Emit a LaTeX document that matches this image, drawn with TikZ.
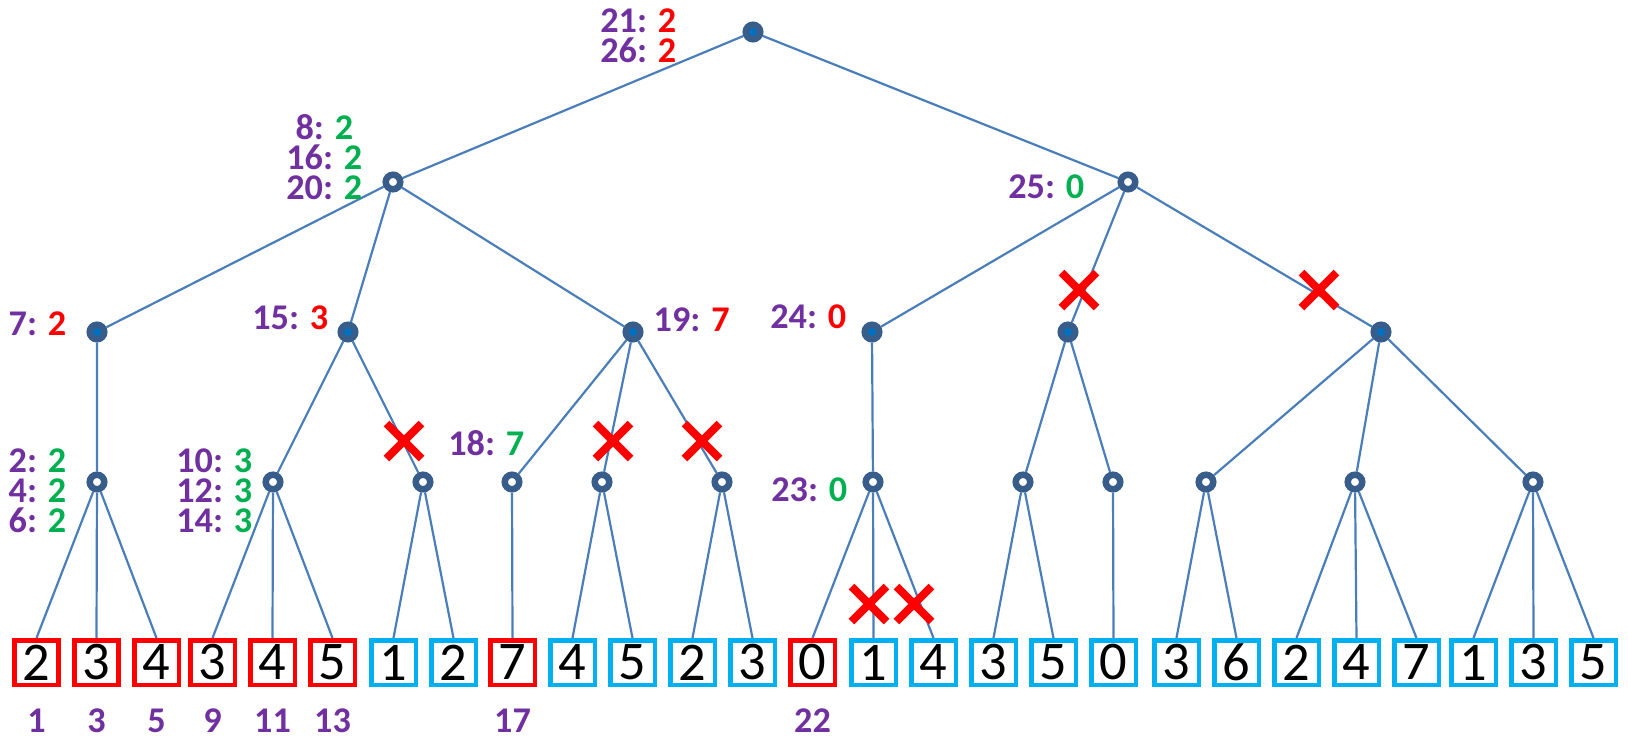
\documentclass[tikz,border=0pt]{standalone}
\usepackage{fontspec}
\setmainfont{Carlito}
\usepackage{xcolor}
\usepackage{tikz}
\usetikzlibrary{shapes.misc}
\definecolor{purp}{HTML}{7030A0}
\definecolor{hot}{HTML}{FF0000}
\definecolor{grn}{HTML}{00B050}
\definecolor{sky}{HTML}{00B0F0}
\definecolor{ringblue}{HTML}{385D8A}
\definecolor{dotblue}{HTML}{0070C0}
\definecolor{wireblue}{HTML}{4A7EBB}
\tikzset{
  wire/.style={draw=wireblue, line width=0.22mm},
  maxn/.style={circle, draw=ringblue, line width=0.65mm, fill=dotblue, inner sep=0pt, minimum size=1.45mm},
  minn/.style={circle, draw=ringblue, line width=0.65mm, fill=white, inner sep=0pt, minimum size=1.45mm},
  leaf/.style={rectangle, line width=0.45mm, fill=white, inner sep=0pt, minimum size=4.45mm, font=\fontsize{15.5}{16}\selectfont},
  lab/.style={text=purp, font=\bfseries\fontsize{10.3}{8.6}\selectfont, inner sep=0pt, align=center},
  cut/.style={cross out, draw=hot, line width=0.8mm, inner sep=0pt, minimum size=2.7mm},
}

\begin{document}
\begin{tikzpicture}[x=0.1mm, y=-0.1mm]
  \useasboundingbox (0,0) rectangle (1628,738);

  % max and min nodes
  \node[maxn] (r) at (753,32) {};
  \node[minn] (a) at (393,182) {};
  \node[minn] (b) at (1128,182) {};
  \node[maxn] (a1) at (97,332) {};
  \node[maxn] (a2) at (348,332) {};
  \node[maxn] (a3) at (633,332) {};
  \node[maxn] (b1) at (872,332) {};
  \node[maxn] (b2) at (1068,332) {};
  \node[maxn] (b3) at (1381,332) {};
  \node[minn] (a11) at (97,482) {};
  \node[minn] (a21) at (273,482) {};
  \node[minn] (a22) at (423,482) {};
  \node[minn] (a31) at (512,482) {};
  \node[minn] (a32) at (602,482) {};
  \node[minn] (a33) at (722,482) {};
  \node[minn] (b11) at (873,482) {};
  \node[minn] (b21) at (1023,482) {};
  \node[minn] (b22) at (1113,482) {};
  \node[minn] (b31) at (1206,482) {};
  \node[minn] (b32) at (1355,482) {};
  \node[minn] (b33) at (1533,482) {};

  % leaves
  \foreach \x/\v/\c [count=\i] in {36.5/2/hot, 96.5/3/hot, 156.5/4/hot, 212.5/3/hot, 272.5/4/hot,
      332.5/5/hot, 393.5/1/sky, 453.5/2/sky, 512.5/7/hot, 572.5/4/sky, 632.5/5/sky, 692.5/2/sky,
      752.5/3/sky, 812.5/0/hot, 873.5/1/sky, 933.5/4/sky, 993.5/3/sky, 1053.5/5/sky, 1113.5/0/sky,
      1176.5/3/sky, 1236.5/6/sky, 1296.5/2/sky, 1356.5/4/sky, 1416.5/7/sky, 1473.5/1/sky,
      1533.5/3/sky, 1593.5/5/sky}
    \node[leaf, draw=\c] (l\i) at (\x,662.5) {\v};

  % edges
  \draw[wire] (r) -- (a) (r) -- (b);
  \draw[wire] (a) -- (a1) (a) -- (a2) (a) -- (a3);
  \draw[wire] (b) -- (b1) (b) -- (b2) (b) -- (b3);
  \draw[wire] (a1) -- (a11) (a2) -- (a21) (a2) -- (a22);
  \draw[wire] (a3) -- (a31) (a3) -- (a32) (a3) -- (a33);
  \draw[wire] (b1) -- (b11) (b2) -- (b21) (b2) -- (b22);
  \draw[wire] (b3) -- (b31) (b3) -- (b32) (b3) -- (b33);
  \foreach \p/\k in {a11/1, a11/2, a11/3, a21/4, a21/5, a21/6, a22/7, a22/8, a31/9,
      a32/10, a32/11, a33/12, a33/13, b11/14, b11/15, b11/16, b21/17, b21/18, b22/19,
      b31/20, b31/21, b32/22, b32/23, b32/24, b33/25, b33/26, b33/27}
    \draw[wire] (\p) -- (l\k.north);

  % pruned branches
  \node[cut] (x1) at (404,441) {};
  \node[cut] (x2) at (613,441) {};
  \node[cut] (x3) at (702,441) {};
  \node[cut] (x4) at (1079,290) {};
  \node[cut] (x5) at (1319,290) {};
  \node[cut] (x6) at (869,604) {};
  \node[cut] (x7) at (914,604) {};

  % values
  \node[lab, anchor=east] (t21) at (677,36) {21: \textcolor{hot}{2}\\26: \textcolor{hot}{2}};
  \node[lab, anchor=east] (t8) at (363,157) {8: \textcolor{grn}{2}\\16: \textcolor{grn}{2}\\20: \textcolor{grn}{2}};
  \node[lab, anchor=east] (t25) at (1085,187) {25: \textcolor{grn}{0}};
  \node[lab, anchor=east] (t7) at (67,324) {7: \textcolor{hot}{2}};
  \node[lab, anchor=east] (t15) at (329,318) {15: \textcolor{hot}{3}};
  \node[lab, anchor=west] (t19) at (653,320) {19: \textcolor{hot}{7}};
  \node[lab, anchor=east] (t24) at (847,317) {24: \textcolor{hot}{0}};
  \node[lab, anchor=east] (t2) at (67,491) {2: \textcolor{grn}{2}\\4: \textcolor{grn}{2}\\6: \textcolor{grn}{2}};
  \node[lab, anchor=east] (t10) at (253,491) {10: \textcolor{grn}{3}\\12: \textcolor{grn}{3}\\14: \textcolor{grn}{3}};
  \node[lab, anchor=east] (t18) at (525,443) {18: \textcolor{grn}{7}};
  \node[lab, anchor=east] (t23) at (848,490) {23: \textcolor{grn}{0}};
  \foreach \x/\n in {36.5/1, 96.5/3, 156.5/5, 212.5/9, 272.5/11, 332.5/13, 512.5/17, 812.5/22}
    \node[lab] (n\n) at (\x,721) {\n};
\end{tikzpicture}
\end{document}
